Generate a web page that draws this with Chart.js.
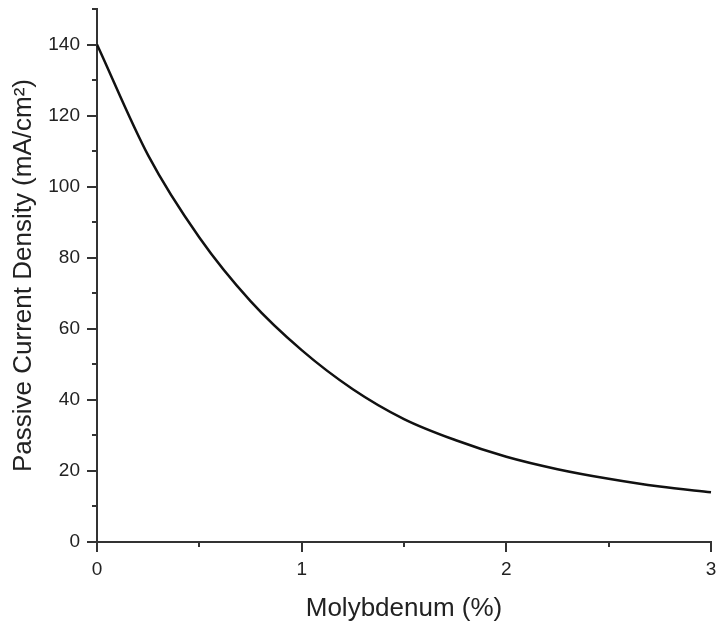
<!DOCTYPE html>
<html>
<head>
<meta charset="utf-8">
<title>Passive current density vs molybdenum</title>
<script src="https://cdn.jsdelivr.net/npm/chart.js@4.4.1/dist/chart.umd.min.js"></script>
<style>
  html, body { margin: 0; padding: 0; background: #fff; }
  canvas { display: block; }
</style>
</head>
<body>
<canvas id="moChart" width="719" height="627"></canvas>
<script>
// Values
const molybdenum = [0, 0.25, 0.5, 0.75, 1.0, 1.25, 1.5, 1.75, 2.0, 2.25, 2.5, 2.75, 3.0];
const currentDensity = [140, 108.8, 85.7, 67.8, 54, 43, 34.6, 28.7, 24, 20.5, 17.8, 15.6, 14];

// Axis ticks
const xMajorTicks = [0, 1, 2, 3];
const xMinorTicks = [0.5, 1.5, 2.5];
const yMajorTicks = [0, 20, 40, 60, 80, 100, 120, 140];
const yMinorTicks = [10, 30, 50, 70, 90, 110, 130, 150];

const FONT = 'Arial, "Liberation Sans", sans-serif';
const AXIS_COLOR = "#333";

// Chart.js has one tick length per axis, so draw major/minor marks here
const tickMarks = {
  id: "tickMarks",
  afterDraw(chart) {
    const { ctx, scales: { x, y } } = chart;
    const x0 = x.left;
    const y0 = y.bottom;
    ctx.save();
    ctx.strokeStyle = AXIS_COLOR;
    ctx.lineWidth = 2;
    ctx.beginPath();
    for (const v of xMajorTicks) {
      const px = Math.round(x.getPixelForValue(v));
      ctx.moveTo(px, y0);
      ctx.lineTo(px, y0 + 10);
    }
    for (const v of xMinorTicks) {
      const px = Math.round(x.getPixelForValue(v));
      ctx.moveTo(px, y0);
      ctx.lineTo(px, y0 + 5);
    }
    for (const v of yMajorTicks) {
      const py = Math.round(y.getPixelForValue(v));
      ctx.moveTo(x0, py);
      ctx.lineTo(x0 - 10, py);
    }
    for (const v of yMinorTicks) {
      const py = Math.round(y.getPixelForValue(v));
      ctx.moveTo(x0, py);
      ctx.lineTo(x0 - 5, py);
    }
    ctx.stroke();
    ctx.restore();
  }
};

function buildChart() {
  const points = molybdenum.map((m, i) => ({ x: m, y: currentDensity[i] }));

  return new Chart(document.getElementById("moChart"), {
    type: "line",
    data: {
      datasets: [{
        data: points,
        borderColor: "#111",
        borderWidth: 2.5,
        pointRadius: 0,
        fill: false,
        cubicInterpolationMode: "monotone",
        clip: false
      }]
    },
    options: {
      responsive: false,
      animation: false,
      layout: { padding: { left: 0, right: 8, top: 9, bottom: 0 } },
      plugins: {
        legend: { display: false },
        tooltip: { enabled: false }
      },
      scales: {
        x: {
          type: "linear",
          min: 0,
          max: 3,
          afterBuildTicks: (s) => { s.ticks = xMajorTicks.map(v => ({ value: v })); },
          afterFit: (s) => {
            s.height = 627 - 542;
            s.paddingLeft = 0;
            s.paddingRight = 0;
          },
          grid: { display: false, drawTicks: false },
          border: { display: true, color: AXIS_COLOR, width: 2 },
          ticks: {
            padding: 16,
            color: "#222",
            font: { family: FONT, size: 19 }
          },
          title: {
            display: true,
            text: "Molybdenum (%)",
            color: "#222",
            padding: { top: 0, bottom: 3 },
            font: { family: FONT, size: 26 }
          }
        },
        y: {
          min: 0,
          max: 150,
          afterBuildTicks: (s) => { s.ticks = yMajorTicks.map(v => ({ value: v })); },
          afterFit: (s) => {
            s.width = 97;
            s.paddingTop = 0;
            s.paddingBottom = 0;
          },
          grid: { display: false, drawTicks: false },
          border: { display: true, color: AXIS_COLOR, width: 2 },
          ticks: {
            padding: 17,
            color: "#222",
            font: { family: FONT, size: 19 }
          },
          title: {
            display: true,
            text: "Passive Current Density (mA/cm²)",
            color: "#222",
            padding: { top: 8, bottom: 0 },
            font: { family: FONT, size: 26 }
          }
        }
      }
    },
    plugins: [tickMarks]
  });
}

document.addEventListener("DOMContentLoaded", buildChart);
</script>
</body>
</html>
